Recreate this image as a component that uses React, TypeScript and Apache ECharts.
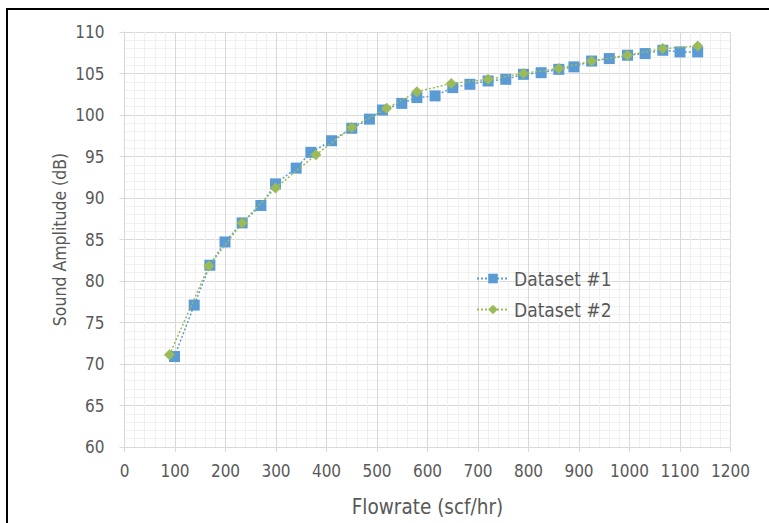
import React, { useEffect, useRef } from "react";
import * as echarts from "echarts";

const dataset1X = [99, 138, 169, 199, 233, 270, 299, 340, 369, 410, 450, 485, 511, 549, 579, 615, 650, 684, 720, 755, 790, 825, 860, 890, 925, 960, 996, 1031, 1066, 1100, 1135];
const dataset1Y = [70.9, 77.1, 81.9, 84.7, 87.0, 89.1, 91.7, 93.6, 95.5, 96.9, 98.4, 99.5, 100.6, 101.4, 102.1, 102.3, 103.3, 103.7, 104.1, 104.3, 104.9, 105.1, 105.5, 105.8, 106.5, 106.8, 107.2, 107.4, 107.8, 107.6, 107.6];
const dataset2X = [89, 167, 233, 299, 379, 450, 519, 579, 647, 720, 790, 860, 925, 996, 1066, 1135];
const dataset2Y = [71.1, 81.8, 87.0, 91.2, 95.2, 98.5, 100.8, 102.8, 103.8, 104.3, 105.0, 105.6, 106.5, 107.2, 108.0, 108.3];
const seriesNames = ["Dataset #1", "Dataset #2"];
const xAxisTitle = "Flowrate (scf/hr)";
const yAxisTitle = "Sound Amplitude (dB)";

const FONT = "'DejaVu Sans Condensed', 'DejaVu Sans', sans-serif";
const TEXT = "#595959";

export default function App() {
  const ref = useRef<HTMLDivElement>(null);
  useEffect(() => {
    if (!ref.current) return;
    const chart = echarts.init(ref.current, undefined, { renderer: "svg" });
    const pair = (xs: number[], ys: number[]) => xs.map((x, i) => [x, ys[i]]);
    chart.setOption({
      animation: false,
      backgroundColor: "#ffffff",
      textStyle: { fontFamily: FONT },
      grid: { left: 124.5, right: 38.5, top: 32, bottom: 76, containLabel: false },
      graphic: [
        {
          type: "rect",
          shape: { x: 7, y: 9, width: 900, height: 700 },
          style: { fill: "none", stroke: "#000000", lineWidth: 2 },
          silent: true,
        },
      ],
      legend: {
        orient: "vertical",
        left: 471,
        top: 264,
        itemGap: 12,
        itemWidth: 32,
        itemHeight: 12,
        textStyle: { color: TEXT, fontSize: 19, fontFamily: FONT },
        data: seriesNames,
      },
      xAxis: {
        type: "value",
        min: 0,
        max: 1200,
        interval: 100,
        name: xAxisTitle,
        nameLocation: "middle",
        nameGap: 49,
        nameTextStyle: { color: TEXT, fontSize: 20.5, fontFamily: FONT },
        axisLine: { show: true, lineStyle: { color: "#d9d9d9", width: 1 } },
        axisTick: { show: true, length: 5, lineStyle: { color: "#d9d9d9" } },
        axisLabel: {
          color: TEXT,
          fontSize: 17,
          margin: 15,
          fontFamily: FONT,
          formatter: (v: number) => String(v),
        },
        splitLine: { show: true, lineStyle: { color: "#d9d9d9", width: 1 } },
        minorTick: { show: false, splitNumber: 5 },
        minorSplitLine: { show: true, lineStyle: { color: "#f0f0f0", width: 1 } },
      },
      yAxis: {
        type: "value",
        min: 60,
        max: 110,
        interval: 5,
        name: yAxisTitle,
        nameLocation: "middle",
        nameGap: 56,
        nameMoveOverlap: false,
        nameTextStyle: { color: TEXT, fontSize: 17.5, fontFamily: FONT },
        axisLine: { show: true, lineStyle: { color: "#d9d9d9", width: 1 } },
        axisTick: { show: true, length: 5, lineStyle: { color: "#d9d9d9" } },
        axisLabel: {
          color: TEXT,
          fontSize: 17,
          margin: 20,
          fontFamily: FONT,
          formatter: (v: number) => String(v),
        },
        splitLine: { show: true, lineStyle: { color: "#d9d9d9", width: 1 } },
        minorTick: { show: false, splitNumber: 5 },
        minorSplitLine: { show: true, lineStyle: { color: "#f0f0f0", width: 1 } },
      },
      series: [
        {
          name: seriesNames[0],
          type: "line",
          data: pair(dataset1X, dataset1Y),
          symbol: "rect",
          symbolSize: 11,
          itemStyle: { color: "#5b9bd5" },
          lineStyle: { color: "#5b9bd5", width: 1.5, type: [2, 2] },
          z: 2,
        },
        {
          name: seriesNames[1],
          type: "line",
          data: pair(dataset2X, dataset2Y),
          symbol: "diamond",
          symbolSize: 11,
          itemStyle: { color: "#9bbb59" },
          lineStyle: { color: "#9bbb59", width: 1.5, type: [2, 2] },
          z: 3,
        },
      ],
    });
    return () => chart.dispose();
  }, []);
  return (
    <div
      ref={ref}
      style={{ position: "absolute", left: 0, top: 0, width: 769, height: 523 }}
    />
  );
}
